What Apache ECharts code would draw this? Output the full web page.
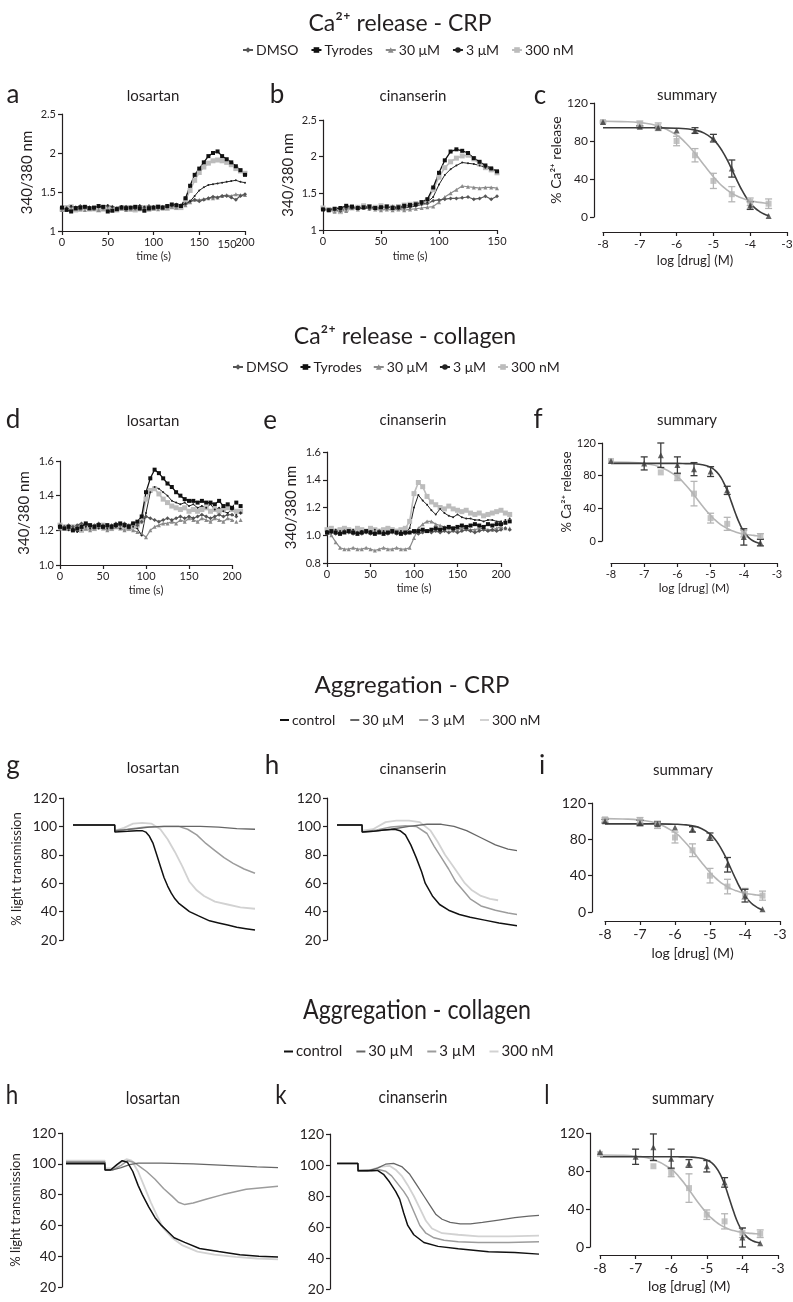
<!DOCTYPE html>
<html><head><meta charset="utf-8">
<script src="https://cdn.jsdelivr.net/npm/echarts@6/dist/echarts.min.js"></script>
<style>html,body{margin:0;padding:0;background:#fff}#c{width:793px;height:1302px}</style>
</head><body><div id="c"></div>
<script>
// ---------------- DATA ----------------
const caNames = ['DMSO','Tyrodes','30 μM','3 μM','300 nM'];
const aggNames = ['control','30 µM','3 µM','300\u00a0nM'];

const aTime = [0,5,10,15,20,25,30,35,40,45,50,55,60,65,70,75,80,85,90,95,100,105,110,115,120,125,130,135,140,145,150,155,160,165,170,175,180,185,190,195,200];
const aTyrodes = [1.30,1.27,1.25,1.29,1.30,1.31,1.29,1.30,1.32,1.31,1.25,1.26,1.28,1.30,1.29,1.30,1.31,1.29,1.26,1.29,1.30,1.31,1.30,1.32,1.34,1.33,1.32,1.42,1.58,1.72,1.80,1.88,1.96,2.00,2.02,1.96,1.92,1.88,1.83,1.78,1.72];
const a300nM = [1.28,1.30,1.31,1.27,1.28,1.30,1.28,1.29,1.27,1.28,1.30,1.28,1.27,1.29,1.30,1.28,1.27,1.29,1.30,1.28,1.29,1.31,1.30,1.29,1.31,1.30,1.30,1.40,1.52,1.65,1.75,1.82,1.87,1.90,1.91,1.90,1.88,1.85,1.80,1.77,1.74];
const a3uM = [1.31,1.30,1.32,1.31,1.30,1.32,1.31,1.30,1.31,1.32,1.33,1.31,1.30,1.32,1.31,1.30,1.31,1.33,1.31,1.30,1.31,1.32,1.30,1.31,1.33,1.32,1.33,1.35,1.38,1.45,1.52,1.56,1.59,1.60,1.61,1.62,1.63,1.64,1.65,1.63,1.62];
const a30uM = [1.27,1.28,1.27,1.29,1.28,1.27,1.30,1.28,1.27,1.29,1.28,1.27,1.28,1.29,1.27,1.28,1.29,1.28,1.27,1.28,1.29,1.28,1.29,1.30,1.31,1.30,1.32,1.33,1.37,1.40,1.40,1.41,1.42,1.42,1.43,1.45,1.46,1.45,1.47,1.46,1.46];
const aDMSO = [1.30,1.29,1.31,1.30,1.32,1.31,1.30,1.29,1.31,1.30,1.32,1.31,1.29,1.30,1.31,1.30,1.29,1.31,1.30,1.32,1.31,1.30,1.31,1.32,1.33,1.34,1.33,1.35,1.38,1.40,1.38,1.40,1.42,1.44,1.43,1.45,1.45,1.43,1.40,1.45,1.47];

const bTime = [0,5,10,15,20,25,30,35,40,45,50,55,60,65,70,75,80,85,90,95,100,105,110,115,120,125,130,135,140,145,150];
const bTyrodes = [1.28,1.27,1.29,1.30,1.33,1.32,1.30,1.31,1.32,1.30,1.31,1.32,1.30,1.31,1.33,1.34,1.35,1.38,1.42,1.58,1.78,1.95,2.07,2.10,2.08,2.05,1.98,1.93,1.88,1.84,1.80];
const b300nM = [1.30,1.28,1.27,1.25,1.28,1.30,1.31,1.33,1.32,1.31,1.33,1.32,1.31,1.32,1.34,1.35,1.36,1.37,1.40,1.55,1.72,1.85,1.93,1.98,2.01,2.02,1.97,1.90,1.85,1.82,1.78];
const b3uM = [1.29,1.28,1.30,1.29,1.31,1.30,1.29,1.30,1.31,1.30,1.30,1.31,1.30,1.29,1.31,1.32,1.33,1.35,1.38,1.45,1.62,1.75,1.83,1.88,1.92,1.91,1.90,1.88,1.85,1.83,1.80];
const b30uM = [1.29,1.27,1.25,1.27,1.26,1.30,1.28,1.30,1.29,1.28,1.27,1.28,1.27,1.28,1.27,1.28,1.29,1.30,1.31,1.32,1.38,1.45,1.50,1.55,1.60,1.59,1.58,1.57,1.58,1.58,1.57];
const bDMSO = [1.28,1.27,1.28,1.26,1.29,1.30,1.31,1.30,1.29,1.30,1.31,1.30,1.32,1.31,1.30,1.31,1.33,1.35,1.36,1.40,1.41,1.42,1.43,1.43,1.44,1.45,1.42,1.43,1.46,1.42,1.46];

const deTime = [0,5,10,15,20,25,30,35,40,45,50,55,60,65,70,75,80,85,90,95,100,105,110,115,120,125,130,135,140,145,150,155,160,165,170,175,180,185,190,195,200,205,210];
const dTyrodes = [1.22,1.21,1.22,1.20,1.21,1.22,1.24,1.23,1.22,1.23,1.22,1.23,1.22,1.23,1.24,1.23,1.22,1.24,1.25,1.28,1.42,1.50,1.55,1.53,1.50,1.47,1.45,1.42,1.40,1.38,1.37,1.37,1.36,1.37,1.36,1.36,1.35,1.37,1.34,1.35,1.33,1.36,1.34];
const d3uM = [1.22,1.21,1.20,1.21,1.19,1.20,1.22,1.21,1.22,1.21,1.22,1.21,1.23,1.22,1.21,1.22,1.23,1.22,1.21,1.17,1.30,1.42,1.45,1.44,1.42,1.40,1.37,1.36,1.35,1.36,1.34,1.35,1.33,1.34,1.33,1.35,1.32,1.33,1.31,1.30,1.32,1.29,1.30];
const d300nM = [1.23,1.22,1.21,1.22,1.21,1.20,1.21,1.22,1.21,1.22,1.23,1.22,1.21,1.22,1.23,1.22,1.21,1.22,1.23,1.25,1.38,1.43,1.44,1.41,1.38,1.36,1.34,1.33,1.32,1.33,1.31,1.32,1.31,1.32,1.33,1.31,1.32,1.31,1.32,1.33,1.32,1.31,1.31];
const dDMSO = [1.23,1.22,1.23,1.22,1.23,1.24,1.23,1.22,1.23,1.24,1.23,1.22,1.23,1.24,1.23,1.24,1.23,1.24,1.23,1.25,1.28,1.27,1.26,1.25,1.26,1.27,1.26,1.27,1.28,1.27,1.28,1.27,1.28,1.29,1.28,1.27,1.28,1.29,1.28,1.29,1.29,1.28,1.30];
const d30uM = [1.21,1.22,1.21,1.20,1.21,1.22,1.21,1.20,1.21,1.22,1.21,1.20,1.21,1.22,1.21,1.20,1.21,1.20,1.19,1.18,1.16,1.20,1.22,1.23,1.24,1.24,1.25,1.24,1.26,1.25,1.27,1.26,1.25,1.27,1.26,1.25,1.27,1.26,1.25,1.27,1.26,1.25,1.26];

const e300nM = [1.04,1.05,1.03,1.04,1.05,1.04,1.03,1.05,1.04,1.03,1.05,1.04,1.03,1.04,1.05,1.04,1.03,1.04,1.05,1.10,1.30,1.38,1.35,1.28,1.24,1.22,1.20,1.19,1.21,1.19,1.18,1.17,1.18,1.16,1.15,1.16,1.14,1.15,1.16,1.17,1.18,1.16,1.15];
const e3uM = [1.03,1.02,1.04,1.03,1.02,1.03,1.04,1.02,1.03,1.02,1.03,1.04,1.02,1.03,1.02,1.03,1.02,1.03,1.02,1.05,1.20,1.29,1.25,1.22,1.18,1.15,1.19,1.16,1.14,1.13,1.15,1.13,1.12,1.12,1.11,1.11,1.10,1.11,1.11,1.10,1.10,1.11,1.12];
const eTyrodes = [1.02,1.03,1.02,1.01,1.02,1.03,1.02,1.01,1.02,1.03,1.02,1.01,1.02,1.01,1.02,1.03,1.02,1.01,1.02,1.02,1.03,1.03,1.04,1.03,1.04,1.05,1.04,1.05,1.06,1.05,1.06,1.07,1.06,1.07,1.08,1.07,1.06,1.08,1.07,1.08,1.08,1.09,1.10];
const e30uM = [1.02,1.00,0.95,0.91,0.90,0.90,0.91,0.90,0.90,0.91,0.90,0.89,0.90,0.91,0.90,0.90,0.91,0.90,0.90,0.91,0.98,1.05,1.08,1.10,1.10,1.08,1.07,1.06,1.05,1.04,1.04,1.05,1.05,1.04,1.04,1.05,1.05,1.04,1.04,1.05,1.06,1.05,1.05];
const eDMSO = [1.01,1.02,1.01,1.02,1.03,1.02,1.01,1.02,1.01,1.02,1.01,1.02,1.03,1.02,1.01,1.02,1.01,1.02,1.01,1.02,1.02,1.01,1.02,1.03,1.02,1.03,1.02,1.03,1.02,1.03,1.02,1.03,1.04,1.03,1.02,1.03,1.04,1.03,1.04,1.03,1.04,1.05,1.04];

// summary (log dose) data
const doseX = [-8,-7,-6.5,-6,-5.5,-5,-4.5,-4,-3.5];
const doseXLight = [-8,-6.5,-6,-5.5,-5,-4.5,-4,-3.5];
const fitX = [-8,-7.5,-7,-6.5,-6,-5.75,-5.5,-5.25,-5,-4.875,-4.75,-4.625,-4.5,-4.375,-4.25,-4.125,-4,-3.875,-3.75,-3.625,-3.5];

const cLightMean = [100,98,95,80,65,38,24,16,14];
const cLightErr  = [1,3,4,5,7,8,8,4,5];
const cDarkMean  = [100,95,94,91,91,83,51,12,1];
const cDarkErr   = [0,1,1,0,3,4,9,4,0];
const cLightFit  = [100.8,100.4,99.3,95.8,86.3,77.9,67.0,54.5,42.4,37.0,32.3,28.4,25.0,22.4,20.2,18.5,17.2,16.2,15.4,14.8,14.4];
const cDarkFit   = [94,94,94,93.9,93.5,92.9,91.5,88.3,81.5,76.0,68.8,60.1,50.2,39.8,30.0,21.6,14.8,9.6,5.9,3.2,1.5];

const fDarkMean  = [98,95,105,93,88,85,62,5,-2];
const fDarkErr   = [0,8,15,10,8,6,5,10,4];
const fLightMean = [98,84,78,58,28,21,9,6];
const fLightErr  = [0,0,4,15,6,8,4,3];
const fDarkFit   = [95,95,95,95,95,94.8,94.5,93.4,90.2,86.8,81.4,73.1,61.7,47.9,33.7,21.2,11.6,5.1,0.9,-1.6,-3.0];
const fLightFit  = [96.8,96.3,94.8,90.2,78.5,68.6,56.3,43.2,31.2,26.1,21.8,18.2,15.3,12.9,11.1,9.6,8.5,7.7,7.1,6.5,6.1];

const iLightMean = [102,101,96,82,68,40,28,20,18];
const iLightErr  = [2,3,4,6,7,8,8,6,5];
const iDarkMean  = [100,98,97,93,91,83,52,18,3];
const iDarkErr   = [2,3,2,0,3,4,8,7,0];
const iLightFit  = [102.8,102.4,101.1,97.3,87.3,78.5,67.3,55.1,43.5,38.6,34.3,30.6,27.6,25.2,23.3,21.8,20.7,19.8,19.1,18.6,18.2];
const iDarkFit   = [97,97,97,97,96.6,96.1,94.8,92.0,85.9,80.9,74.2,65.8,56.0,45.4,35.0,25.6,17.9,11.9,7.5,4.4,2.2];

const lDarkMean  = [100,95,105,93,88,85,68,10,4];
const lDarkErr   = [0,8,14,10,4,6,5,10,0];
const lLightMean = [98,85,78,62,34,27,15,14];
const lLightErr  = [0,0,4,15,5,8,5,4];
const lDarkFit   = [95,95,95,95,95,94.9,94.7,94.0,91.7,89.0,84.3,76.7,65.7,51.9,37.6,25.3,16.4,10.6,7.2,5.3,4.2];
const lLightFit  = [96.9,96.6,95.6,92.1,81.9,72.5,60.3,47.1,35.4,30.6,26.6,23.3,20.8,18.8,17.3,16.2,15.4,14.8,14.3,14.0,13.7];

// aggregation traces: [time (a.u. 0-100), % light transmission]
const gControl = [[0,101],[22.9,101],[23,96],[30,96.5],[35,97],[38,97],[40,96],[42,93],[44,88],[46,80],[48,72],[50,64],[52,58],[54,53],[56,49],[58,46],[61,43],[64,40],[69,37],[75,33.5],[80,32],[85,30.5],[90,29],[95,28],[100,27]];
const g30uM = [[0,101],[22.9,101],[23,97],[28,97.5],[35,98.5],[42,99.5],[50,100],[60,100],[70,100],[80,99.5],[90,98.5],[100,98]];
const g3uM = [[0,101],[22.9,101],[23,97],[30,98],[40,99.5],[50,100],[58,100],[63,98],[68,94],[73,88],[78,83],[83,78],[88,74],[94,70],[100,67]];
const g300nM = [[0,101],[22.9,101],[23,97],[28,99],[33,102],[38,102.5],[43,102],[48,98],[52,91],[56,82],[60,72],[64,61],[68,55],[72,51],[78,47],[85,45],[92,43],[100,42]];

const hControl = [[0,101],[13.9,101],[14,96],[20,96.5],[26,97.5],[32,98],[35,97],[38,94],[41,87],[44,78],[47,68],[49,60],[53,51],[57,45],[62,41],[68,38],[74,36],[82,34],[90,32],[100,30]];
const h30uM = [[0,101],[13.9,101],[14,96],[20,96.5],[30,98],[40,100],[50,101.5],[58,101.5],[65,100],[72,97],[80,92],[88,87],[95,84],[100,83]];
const h3uM = [[0,101],[13.9,101],[14,96],[22,97.5],[30,99.5],[38,100.5],[44,100],[50,95],[54,86],[58,78],[62,70],[66,61],[70,55],[74,49],[80,44],[88,41],[95,39],[100,38]];
const h300nM = [[0,101],[13.9,101],[14,97],[20,98],[27,103],[33,104],[40,104],[46,103],[52,97],[56,89],[60,80],[65,71],[71,60],[75,55],[80,51],[85,49],[89.5,48]];

const h2Control = [[0,100],[18.3,100],[18.4,96],[21,96],[24,99.5],[26.5,102],[29,101],[31.5,95],[34,86],[36,80],[39,72],[42,65],[45,60],[48,56],[51,52],[56,49],[63,45],[72,43],[82,41],[91,40],[100,39.5]];
const h230uM = [[0,101],[18.3,101],[18.4,96],[22,96],[26,97.5],[30,99.5],[34,100.5],[45,100.5],[60,100],[75,99],[90,98],[100,97.5]];
const h23uM = [[0,101],[18.3,101],[18.4,96],[22,96],[26,99],[29,102],[32,101],[35,98],[38,95],[42,90],[46,84],[50,79],[53,75],[56,73.5],[60,74.5],[66,77],[74,80],[85,83.5],[100,85.5]];
const h2300nM = [[0,102],[18.3,102],[18.4,97],[22,97],[26,101],[28.5,103],[31,102],[34,95],[37,85],[40,75],[43,66],[46,58],[50,52],[55,47],[62,43],[70,41],[80,39.5],[90,38.5],[100,38]];

const kControl = [[0,101],[10.3,101],[10.4,96.5],[15,96.5],[20,96.5],[23,94],[26,89],[29,83],[31,78],[33,69],[35,61],[38,55],[43,50],[50,47.5],[60,46],[75,44],[88,43.5],[100,42.5]];
const k30uM = [[0,101],[10.3,101],[10.4,96],[15,96],[20,98],[24,100.5],[28,101],[32,99],[36,94],[40,86],[43,80],[46,74],[49,68],[52,65],[56,63],[61,62],[66,62],[72,63],[80,64.5],[88,66],[95,67],[100,67.5]];
const k3uM = [[0,101],[10.3,101],[10.4,96],[17,96],[21,97],[24,96],[27,93],[30,88],[33,83],[35,79],[38,70],[41,61],[44,56],[48,53],[53,51.5],[60,50.5],[70,50],[85,50],[100,50.5]];
const k300nM = [[0,101],[10.3,101],[10.4,96],[17,97],[22,99],[26,99.5],[29,97],[32,93],[35,87],[38,80],[41,72],[44,64],[47,59],[52,56],[60,55],[70,54],[85,54],[100,54.5]];

// ---------------- STYLE / LAYOUT ----------------
const FONT = "Lato, 'Open Sans', 'Noto Sans', sans-serif";
const INK = '#231f20';
const LIGHT = '#b5b5b5', DARK = '#3c3c3c';

const caStyle = {
  'DMSO':    {color:'#555555', symbol:'diamond',  size:4, width:1.2},
  'Tyrodes': {color:'#111111', symbol:'rect',     size:4, width:1.3},
  '30 μM':   {color:'#8a8a8a', symbol:'triangle', size:4, width:1.2},
  '3 μM':    {color:'#222222', symbol:'circle',   size:2, width:1.0},
  '300 nM':  {color:'#bcbcbc', symbol:'rect',     size:5, width:1.6}
};
const aggStyle = {
  'control':     {color:'#111111', width:1.5},
  '30 µM':       {color:'#666666', width:1.3},
  '3 µM':        {color:'#9c9c9c', width:1.5},
  '300\u00a0nM': {color:'#d2d2d2', width:1.8}
};

const grids = [
  {left:62,  top:114, width:183, height:117},  // a
  {left:323, top:120, width:174, height:110},  // b
  {left:603, top:103, width:184, height:114},  // c
  {left:60,  top:461, width:172, height:104},  // d
  {left:327, top:452, width:174, height:111},  // e
  {left:611, top:443, width:166, height:98},   // f
  {left:63,  top:798, width:192, height:142},  // g
  {left:327, top:798, width:190, height:142},  // h
  {left:605, top:803, width:175, height:109},  // i
  {left:62,  top:1133, width:216, height:154}, // h (collagen)
  {left:330, top:1134, width:209, height:155}, // k
  {left:600, top:1133, width:178, height:114}  // l
];

const zip = (xs, ys) => xs.map((x, i) => [x, ys[i]]);
const lineStyleAx = () => ({show:true, onZero:false, lineStyle:{color:INK, width:1.2}});
const tickAx = () => ({show:true, length:4, lineStyle:{color:INK, width:1.2}});

function timeX(gi, max, fs, gap) {
  return {type:'value', gridIndex:gi, min:0, max:max, interval:50,
    axisLine:lineStyleAx(), axisTick:tickAx(), splitLine:{show:false},
    axisLabel:{fontSize:fs, color:INK, fontFamily:FONT, margin:6},
    name:'time (s)', nameLocation:'middle', nameGap:gap,
    nameTextStyle:{fontSize:11, color:INK, fontFamily:FONT}};
}
function logX(gi, offset, fs, nameSize, gap) {
  return {type:'value', gridIndex:gi, min:-8, max:-3, interval:1, offset:offset,
    axisLine:lineStyleAx(), axisTick:tickAx(), splitLine:{show:false},
    axisLabel:{fontSize:fs, color:INK, fontFamily:FONT, margin:6},
    name:'log [drug] (M)', nameLocation:'middle', nameGap:gap,
    nameTextStyle:{fontSize:nameSize, color:INK, fontFamily:FONT}};
}
function hiddenX(gi, min) {
  return {type:'value', gridIndex:gi, min:min, max:100, show:false, splitLine:{show:false}};
}
function valY(gi, min, max, interval, o) {
  return {type:'value', gridIndex:gi, min:min, max:max, interval:interval, offset:o.offset || 0,
    axisLine:lineStyleAx(), axisTick:tickAx(), splitLine:{show:false},
    axisLabel:{fontSize:o.fs, color:INK, fontFamily:FONT, margin:6,
      formatter:o.fmt || undefined},
    name:o.name || '', nameLocation:'middle', nameGap:o.gap || 30,
    nameTextStyle:{fontSize:o.nameSize || 14, color:INK, fontFamily:FONT}};
}
const fix1 = v => v.toFixed(1);

const xAxes = [
  timeX(0, 200, 11, 20),
  timeX(1, 150, 11, 21),
  logX(2, 15, 12, 13, 22),
  timeX(3, 200, 11, 20),
  timeX(4, 200, 11, 20),
  logX(5, 22, 11, 12, 19),
  hiddenX(6, -5.5),
  hiddenX(7, -5.56),
  logX(8, 9, 14, 14, 25),
  hiddenX(9, -1.9),
  hiddenX(10, -3.5),
  logX(11, 8, 14, 14, 24)
];
const yAxes = [
  valY(0, 1, 2.5, 0.5, {fs:11, name:'340/380 nm', gap:27, nameSize:15}),
  valY(1, 1, 2.5, 0.5, {fs:11, name:'340/380 nm', gap:27, nameSize:15}),
  valY(2, 0, 120, 40, {fs:12, name:'% Ca²⁺ release', gap:27, nameSize:14, offset:9}),
  valY(3, 1.0, 1.6, 0.2, {fs:11, fmt:fix1, name:'340/380 nm', gap:28, nameSize:15}),
  valY(4, 0.8, 1.6, 0.2, {fs:11, fmt:fix1, name:'340/380 nm', gap:28, nameSize:15}),
  valY(5, 0, 120, 40, {fs:11, name:'% Ca²⁺ release', gap:25, nameSize:13, offset:9}),
  valY(6, 20, 120, 20, {fs:14, name:'% light transmission', gap:40, nameSize:13}),
  valY(7, 20, 120, 20, {fs:14}),
  valY(8, 0, 120, 40, {fs:14, offset:13}),
  valY(9, 20, 120, 20, {fs:14, name:'% light transmission', gap:40, nameSize:13}),
  valY(10, 20, 120, 20, {fs:14}),
  valY(11, 0, 120, 40, {fs:14, offset:10})
];

// ---------------- SERIES ----------------
const series = [];
function caLine(name, times, vals, gi) {
  const s = caStyle[name];
  series.push({type:'line', name:name, xAxisIndex:gi, yAxisIndex:gi,
    data:zip(times, vals), symbol:s.symbol, symbolSize:s.size, showSymbol:true, showAllSymbol:true,
    lineStyle:{color:s.color, width:s.width}, itemStyle:{color:s.color},
    clip:false, silent:true});
}
function caPanel(gi, times, d) {
  caLine('300 nM', times, d.n300, gi);
  caLine('30 μM', times, d.u30, gi);
  caLine('DMSO', times, d.dmso, gi);
  caLine('3 μM', times, d.u3, gi);
  caLine('Tyrodes', times, d.tyr, gi);
}
caPanel(0, aTime, {n300:a300nM, u30:a30uM, dmso:aDMSO, u3:a3uM, tyr:aTyrodes});
caPanel(1, bTime, {n300:b300nM, u30:b30uM, dmso:bDMSO, u3:b3uM, tyr:bTyrodes});
caPanel(3, deTime, {n300:d300nM, u30:d30uM, dmso:dDMSO, u3:d3uM, tyr:dTyrodes});
caPanel(4, deTime, {n300:e300nM, u30:e30uM, dmso:eDMSO, u3:e3uM, tyr:eTyrodes});

function aggLine(name, pts, gi) {
  const s = aggStyle[name];
  series.push({type:'line', name:name, xAxisIndex:gi, yAxisIndex:gi, data:pts,
    symbol:'none', lineStyle:{color:s.color, width:s.width}, itemStyle:{color:s.color},
    clip:false, silent:true});
}
function aggPanel(gi, c, u30, u3, n300) {
  aggLine('300\u00a0nM', n300, gi);
  aggLine('3 µM', u3, gi);
  aggLine('30 µM', u30, gi);
  aggLine('control', c, gi);
}
aggPanel(6, gControl, g30uM, g3uM, g300nM);
aggPanel(7, hControl, h30uM, h3uM, h300nM);
aggPanel(9, h2Control, h230uM, h23uM, h2300nM);
aggPanel(10, kControl, k30uM, k3uM, k300nM);

function errRender(color) {
  return function (params, api) {
    const x = api.value(0), y = api.value(1), e = api.value(2);
    if (!e) return {type:'group', children:[]};
    const hi = api.coord([x, y + e]), lo = api.coord([x, y - e]);
    const hw = 3.5, st = {stroke:color, lineWidth:1.3};
    return {type:'group', children:[
      {type:'line', shape:{x1:hi[0], y1:hi[1], x2:lo[0], y2:lo[1]}, style:st},
      {type:'line', shape:{x1:hi[0]-hw, y1:hi[1], x2:hi[0]+hw, y2:hi[1]}, style:st},
      {type:'line', shape:{x1:lo[0]-hw, y1:lo[1], x2:lo[0]+hw, y2:lo[1]}, style:st}
    ]};
  };
}
function sumGroup(gi, name, xs, means, errs, fit, color, symbol, size) {
  series.push({type:'line', name:name + ' fit', xAxisIndex:gi, yAxisIndex:gi, data:zip(fitX, fit),
    smooth:true, symbol:'none', lineStyle:{color:color, width:1.6}, clip:false, silent:true, z:2});
  series.push({type:'custom', name:name + ' SEM', xAxisIndex:gi, yAxisIndex:gi,
    data:xs.map((x, i) => [x, means[i], errs[i]]), encode:{x:0, y:1},
    renderItem:errRender(color), clip:false, silent:true, z:3});
  series.push({type:'scatter', name:name, xAxisIndex:gi, yAxisIndex:gi, data:zip(xs, means),
    symbol:symbol, symbolSize:size, itemStyle:{color:color}, clip:false, silent:true, z:4});
}
sumGroup(2, 'light', doseX, cLightMean, cLightErr, cLightFit, LIGHT, 'rect', 6);
sumGroup(2, 'dark', doseX, cDarkMean, cDarkErr, cDarkFit, DARK, 'triangle', 6);
sumGroup(5, 'light', doseXLight, fLightMean, fLightErr, fLightFit, LIGHT, 'rect', 6);
sumGroup(5, 'dark', doseX, fDarkMean, fDarkErr, fDarkFit, DARK, 'triangle', 6);
sumGroup(8, 'light', doseX, iLightMean, iLightErr, iLightFit, LIGHT, 'rect', 6);
sumGroup(8, 'dark', doseX, iDarkMean, iDarkErr, iDarkFit, DARK, 'triangle', 6);
sumGroup(11, 'light', doseXLight, lLightMean, lLightErr, lLightFit, LIGHT, 'rect', 6);
sumGroup(11, 'dark', doseX, lDarkMean, lDarkErr, lDarkFit, DARK, 'triangle', 6);

// ---------------- TEXT ----------------
function txt(text, x, y, size, sx) {
  return {type:'text', x:x, y:y, silent:true, scaleX:sx || 1,
    style:{text:text, fontSize:size, fontFamily:FONT, fill:INK,
      align:'center', verticalAlign:'middle', textAlign:'center', textVerticalAlign:'middle'}};
}
const NX = 0.86; // condensed look of the collagen-aggregation row
const graphics = [
  txt('Ca²⁺ release - CRP', 400, 24, 23),
  txt('a', 13, 95, 26), txt('losartan', 153, 96, 15),
  txt('b', 277, 95, 26), txt('cinanserin', 413, 96, 15),
  txt('c', 540, 96, 26), txt('summary', 687, 95, 15),
  txt('150', 227, 244, 11),
  txt('Ca²⁺ release - collagen', 405, 337, 23),
  txt('d', 13, 420, 26), txt('losartan', 153, 421, 15),
  txt('e', 270, 421, 26), txt('cinanserin', 413, 420, 15),
  txt('f', 538, 420, 26), txt('summary', 687, 420, 15),
  txt('Aggregation - CRP', 412, 685, 24),
  txt('g', 13, 766, 26), txt('losartan', 153, 768, 15),
  txt('h', 272, 766, 26), txt('cinanserin', 413, 769, 15),
  txt('i', 542, 766, 26), txt('summary', 683, 770, 15),
  txt('Aggregation - collagen', 417, 1010, 27, NX),
  txt('h', 12, 1096, 26, NX), txt('losartan', 153, 1098, 18, NX),
  txt('k', 281, 1096, 26, NX), txt('cinanserin', 413, 1097, 18, NX),
  txt('l', 547, 1096, 26, NX), txt('summary', 683, 1098, 18, NX)
];

function legendCfg(names, left, top, fs, w, h, gap, icon) {
  const l = {data:names, left:left, top:top, orient:'horizontal', itemWidth:w, itemHeight:h,
    itemGap:gap, selectedMode:false, padding:0,
    textStyle:{fontSize:fs, fontFamily:FONT, color:INK, padding:[0,0,0,-2]}};
  if (icon) l.icon = icon;
  return l;
}

const option = {
  animation:false,
  backgroundColor:'#ffffff',
  grid:grids.map(g => Object.assign({outerBoundsMode:'none', containLabel:false}, g)),
  xAxis:xAxes,
  yAxis:yAxes,
  legend:[
    legendCfg(caNames, 242, 43, 14, 10, 7, 12),
    legendCfg(caNames, 232, 360, 14, 10, 7, 11),
    legendCfg(aggNames, 280, 713, 14, 9, 2, 15, 'rect'),
    legendCfg(aggNames, 284, 1044, 15, 9, 2, 14, 'rect')
  ],
  graphic:{elements:graphics},
  series:series
};

const chart = echarts.init(document.getElementById('c'), null, {renderer:'canvas', width:793, height:1302});
chart.setOption(option);
</script></body></html>
